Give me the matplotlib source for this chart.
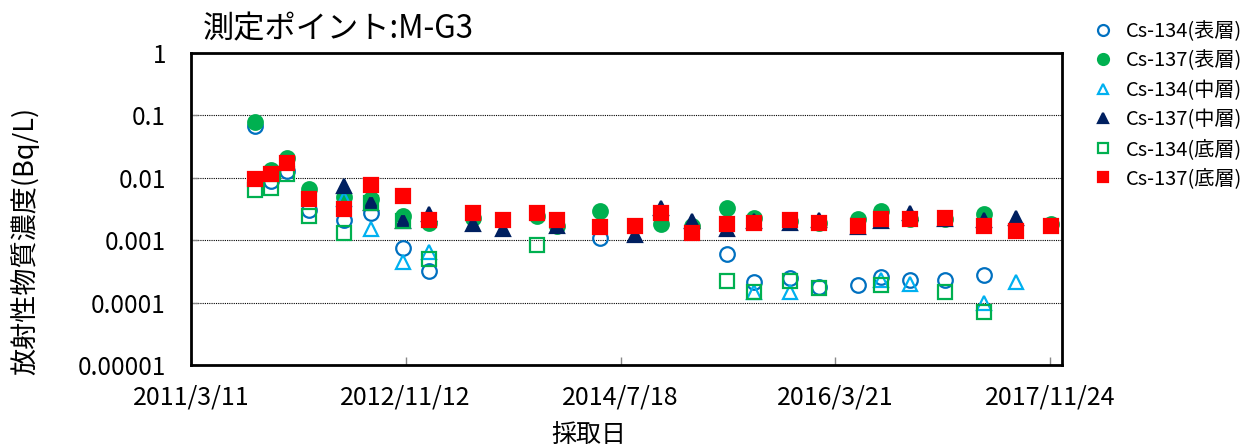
import numpy as np
import pandas as pd
import matplotlib
matplotlib.use("Agg")
import matplotlib.pyplot as plt

plt.rcParams['font.family'] = ['Noto Sans CJK JP', 'DejaVu Sans']

nan = np.nan

# 採取日
dates = ["2011-09-09", "2011-10-24", "2011-12-09", "2012-02-11", "2012-05-20",
         "2012-08-05", "2012-11-04", "2013-01-18", "2013-05-22", "2013-08-16",
         "2013-11-21", "2014-01-17", "2014-05-19", "2014-08-28", "2014-11-10",
         "2015-02-06", "2015-05-19", "2015-08-04", "2015-11-13", "2016-02-04",
         "2016-05-26", "2016-07-29", "2016-10-21", "2017-01-29", "2017-05-20",
         "2017-08-18", "2017-11-26"]

# 放射性物質濃度 (Bq/L)
cs134_surf = [0.067, 0.0088, 0.0128, 0.0031, 0.0021, 0.0027, 0.00074, 0.00032, nan, nan,
              nan, nan, 0.0011, nan, nan, nan, 0.00059, 0.00021, 0.00025, 0.00018,
              0.00019, 0.00026, 0.00023, 0.00023, 0.00028, nan, nan]
cs137_surf = [0.078, 0.0132, 0.0209, 0.0065, 0.0050, 0.0045, 0.0024, 0.0019, 0.0023, nan,
              0.0024, 0.0017, 0.0029, nan, 0.0018, 0.0017, 0.0033, 0.0023, 0.0020, 0.0019,
              0.0022, 0.0029, 0.0022, 0.0022, 0.0026, nan, 0.0018]
cs134_mid = [nan, nan, nan, nan, 0.0045, 0.0015, 0.00045, 0.00064, nan, nan,
             nan, nan, nan, nan, nan, nan, nan, 0.00015, 0.00015, nan,
             nan, 0.00023, 0.0002, nan, 0.0001, 0.00021, nan]
cs137_mid = [nan, nan, nan, nan, 0.0075, 0.0040, 0.0020, 0.0026, 0.0018, 0.0015,
             nan, 0.0017, nan, 0.0012, 0.0033, 0.0020, 0.0015, 0.0020, 0.0019, 0.0021,
             0.0016, 0.0020, 0.0027, 0.0022, 0.0021, 0.0023, nan]
cs134_bot = [0.0063, 0.0069, 0.0113, 0.0024, 0.0013, 0.0040, 0.0020, 0.0005, nan, nan,
             0.00083, nan, nan, nan, nan, nan, 0.00022, 0.00015, 0.00022, 0.00017,
             nan, 0.00019, nan, 0.00015, 0.00007, nan, nan]
cs137_bot = [0.0096, 0.0113, 0.0174, 0.0045, 0.0032, 0.0076, 0.0051, 0.0021, 0.0027, 0.0021,
             0.0027, 0.0021, 0.0016, 0.0017, 0.0027, 0.0013, 0.0018, 0.0019, 0.0021, 0.0019,
             0.0017, 0.0022, 0.0022, 0.0023, 0.0017, 0.0014, 0.0017]

tick_dates = ["2011-03-11", "2012-11-12", "2014-07-18", "2016-03-21", "2017-11-24"]
tick_labels = ["2011/3/11", "2012/11/12", "2014/7/18", "2016/3/21", "2017/11/24"]
y_ticks = [1, 0.1, 0.01, 0.001, 0.0001, 0.00001]
y_labels = ["1", "0.1", "0.01", "0.001", "0.0001", "0.00001"]

x = pd.to_datetime(dates)

fig = plt.figure(figsize=(12.45, 4.48), dpi=100)
ax = fig.add_axes([191/1245, 83/448, 871/1245, 312/448])

# 系列 (表層・中層・底層)
series = [
    (cs134_surf, "Cs-134(表層)", "o", "none", "#0070C0"),
    (cs137_surf, "Cs-137(表層)", "o", "#00B050", "#00B050"),
    (cs134_mid, "Cs-134(中層)", "^", "none", "#00B0F0"),
    (cs137_mid, "Cs-137(中層)", "^", "#002060", "#002060"),
    (cs134_bot, "Cs-134(底層)", "s", "none", "#00B050"),
    (cs137_bot, "Cs-137(底層)", "s", "#FF0000", "#FF0000"),
]
for vals, lab, mk, fc, ec in series:
    ax.plot(x, vals, linestyle="none", marker=mk, markersize=10.5,
            markerfacecolor=fc, markeredgecolor=ec, markeredgewidth=1.6, label=lab)

ax.set_yscale("log")
ax.set_ylim(0.00001, 1)
ax.set_yticks(y_ticks)
ax.set_yticklabels(y_labels)
ax.yaxis.set_minor_locator(matplotlib.ticker.NullLocator())
ax.tick_params(axis="y", direction="in", length=5, width=1, color="#888888", pad=18, labelsize=17.5)

ax.set_xlim(pd.Timestamp("2011-03-11"), pd.Timestamp("2017-12-28"))
ax.set_xticks(pd.to_datetime(tick_dates))
ax.set_xticklabels(tick_labels)
ax.tick_params(axis="x", direction="in", length=6, width=1, color="#888888", pad=14, labelsize=18)

ax.grid(axis="y", which="major", color="black", linestyle=(0, (1, 1)), linewidth=0.8)
for s in ax.spines.values():
    s.set_linewidth(2)
    s.set_color("black")

fig.text(203/1245, 1 - 29/448, "測定ポイント:M-G3", fontsize=22.5, va="center", ha="left")
fig.text(25/1245, 1 - 241/448, "放射性物質濃度(Bq/L)", fontsize=19.5, rotation=90, va="center", ha="center")
fig.text(589/1245, 1 - 435/448, "採取日", fontsize=18, va="center", ha="center")

fig.legend(loc="upper left", bbox_to_anchor=(1087/1245, 1 - 13/448), frameon=False,
           fontsize=14.5, markerscale=0.75, handlelength=0.8, handletextpad=0.75,
           labelspacing=0.42, borderaxespad=0)

fig.savefig("out.png", dpi=100)
